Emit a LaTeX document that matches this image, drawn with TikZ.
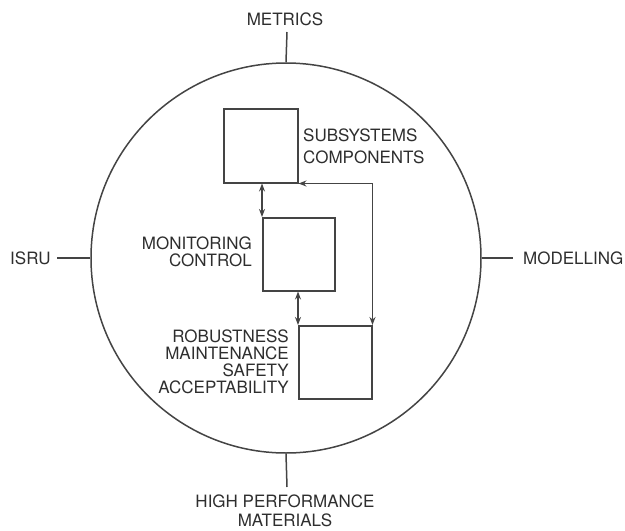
\documentclass[tikz,border=0pt]{standalone}
\usepackage{fontspec}
\setmainfont{TeX Gyre Heros}
\usetikzlibrary{arrows.meta}
\definecolor{ln}{HTML}{444444}
\definecolor{tx}{HTML}{2E2E2E}
\begin{document}
\begin{tikzpicture}[x=1pt,y=-1pt,
  lbl/.style={text=tx, font=\fontsize{17}{17}\selectfont, inner sep=0pt},
  line/.style={draw=ln, line width=1.5pt},
  boxx/.style={draw=ln, line width=1.5pt, inner sep=0pt, minimum width=74pt, minimum height=74pt, anchor=north west},
  arr/.style={line, {Stealth[length=8pt,width=6pt]}-{Stealth[length=8pt,width=6pt]}}]
\useasboundingbox (0,0) rectangle (625,531);
\node[circle, draw=ln, line width=1.5pt, inner sep=0pt, minimum size=390pt] (c) at (286,258) {};
% boxes
\node[boxx] (b1) at (223,108) {};
\node[boxx, minimum width=72pt, minimum height=73pt] (b2) at (262,217) {};
\node[boxx, minimum width=73pt, minimum height=73pt] (b3) at (298,325) {};
% box labels
\node[lbl, anchor=west, align=left, font=\fontsize{17}{22}\selectfont] (t1) at (303,146) {SUBSYSTEMS\\COMPONENTS};
\node[lbl, anchor=east, align=right] (t2) at (252,251.5) {MONITORING\\CONTROL};
\node[lbl, anchor=east, align=right] (t3) at (289,362) {ROBUSTNESS\\MAINTENANCE\\SAFETY\\ACCEPTABILITY};
% arrows
\draw[arr] (b2.north west |- b1.south) -- (b2.north west);
\draw[arr] (b3.north west |- b2.south) -- (b3.north west);
\draw[arr] (b1.south east) -| (b3.north east);
% outer labels
\node[lbl] (metrics) at (285,19) {METRICS};
\node[lbl, align=center, font=\fontsize{17}{19}\selectfont] (hpm) at (285,510.5) {HIGH PERFORMANCE\\MATERIALS};
\node[lbl, anchor=west] (isru) at (10,258) {ISRU};
\node[lbl, anchor=west] (model) at (523,258) {MODELLING};
\coordinate (mt) at (287,32);
\coordinate (hp) at (287,487);
\coordinate (is) at (57,258);
\coordinate (mo) at (513,258);
\draw[line] (c.north) -- (mt);
\draw[line] (c.south) -- (hp);
\draw[line] (c.west) -- (is);
\draw[line] (c.east) -- (mo);
\end{tikzpicture}
\end{document}
